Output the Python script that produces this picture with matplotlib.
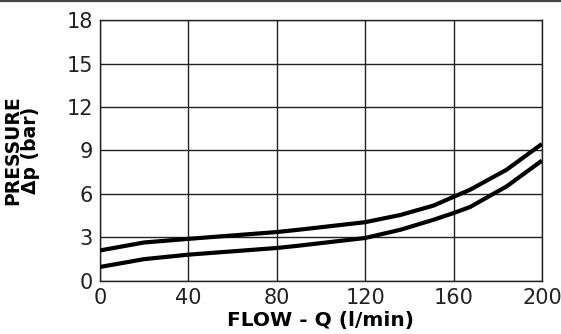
import matplotlib.pyplot as plt
import matplotlib.lines as mlines

# flow (l/min) and pressure drop (bar)
flow = [0, 20, 40, 80, 90, 120, 136, 151, 160, 167.5, 184, 200]
dp_upper = [2.1, 2.65, 2.9, 3.37, 3.53, 4.05, 4.55, 5.2, 5.8, 6.29, 7.67, 9.45]
dp_lower = [0.96, 1.5, 1.81, 2.27, 2.43, 2.96, 3.53, 4.22, 4.68, 5.1, 6.52, 8.3]

x_ticks = [0, 40, 80, 120, 160, 200]
y_ticks = [0, 3, 6, 9, 12, 15, 18]

plt.rcParams['font.family'] = ['DejaVu Sans']

fig = plt.figure(figsize=(5.61, 3.34), dpi=100)
ax = fig.add_axes([0.178, 0.159, 0.788, 0.781])

ax.plot(flow, dp_upper, color="black", lw=3.0, solid_capstyle="butt", zorder=3)
ax.plot(flow, dp_lower, color="black", lw=3.0, solid_capstyle="butt", zorder=3)

ax.set_xlim(0, 200)
ax.set_ylim(0, 18)
ax.set_xticks(x_ticks)
ax.set_yticks(y_ticks)
ax.grid(True, color="#222222", lw=1.0)
ax.tick_params(length=0, labelsize=15, pad=5, labelcolor="#222222")
for sp in ax.spines.values():
    sp.set_color("#222222")
    sp.set_linewidth(1.0)

ax.set_xlabel("FLOW - Q (l/min)", fontsize=14.5, fontweight="bold", labelpad=2)
ax.set_ylabel("PRESSURE\n\u0394p (bar)", fontsize=13.5, fontweight="bold",
              linespacing=0.95)
ax.yaxis.set_label_coords(-0.135, 0.5)

# grey rule across the top of the figure
fig.add_artist(mlines.Line2D([0, 1], [0.997, 0.997], transform=fig.transFigure,
                             color="#444444", lw=1.6))

fig.savefig("out.png", dpi=100)
